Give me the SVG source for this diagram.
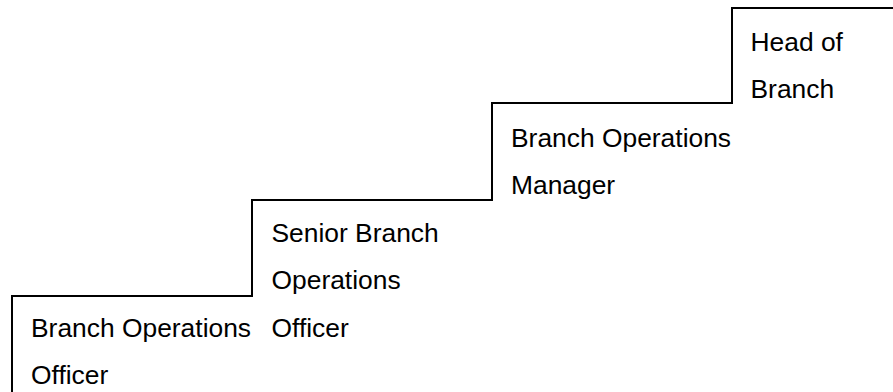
<svg xmlns="http://www.w3.org/2000/svg" width="893" height="392" viewBox="0 0 893 392">
  <style>
    .lbl { font-family: "Liberation Sans", Arial, sans-serif; font-size: 26.4px; fill: #000; }
    .step { fill: none; stroke: #000; stroke-width: 2; }
  </style>
  <rect width="893" height="392" fill="#fff"/>
  <g id="connectors">
    <path class="step" d="M12,392 V296 H252 V200 H492 V103 H732 V8 H893"/>
  </g>
  <g id="node-branch-operations-officer">
    <text class="lbl" x="31" y="337">Branch Operations</text>
    <text class="lbl" x="31" y="384">Officer</text>
  </g>
  <g id="node-senior-branch-operations-officer">
    <text class="lbl" x="271.5" y="242">Senior Branch</text>
    <text class="lbl" x="271.5" y="289">Operations</text>
    <text class="lbl" x="271.5" y="337">Officer</text>
  </g>
  <g id="node-branch-operations-manager">
    <text class="lbl" x="511" y="147">Branch Operations</text>
    <text class="lbl" x="511" y="194">Manager</text>
  </g>
  <g id="node-head-of-branch">
    <text class="lbl" x="750.5" y="51">Head of</text>
    <text class="lbl" x="750.5" y="98">Branch</text>
  </g>
</svg>
